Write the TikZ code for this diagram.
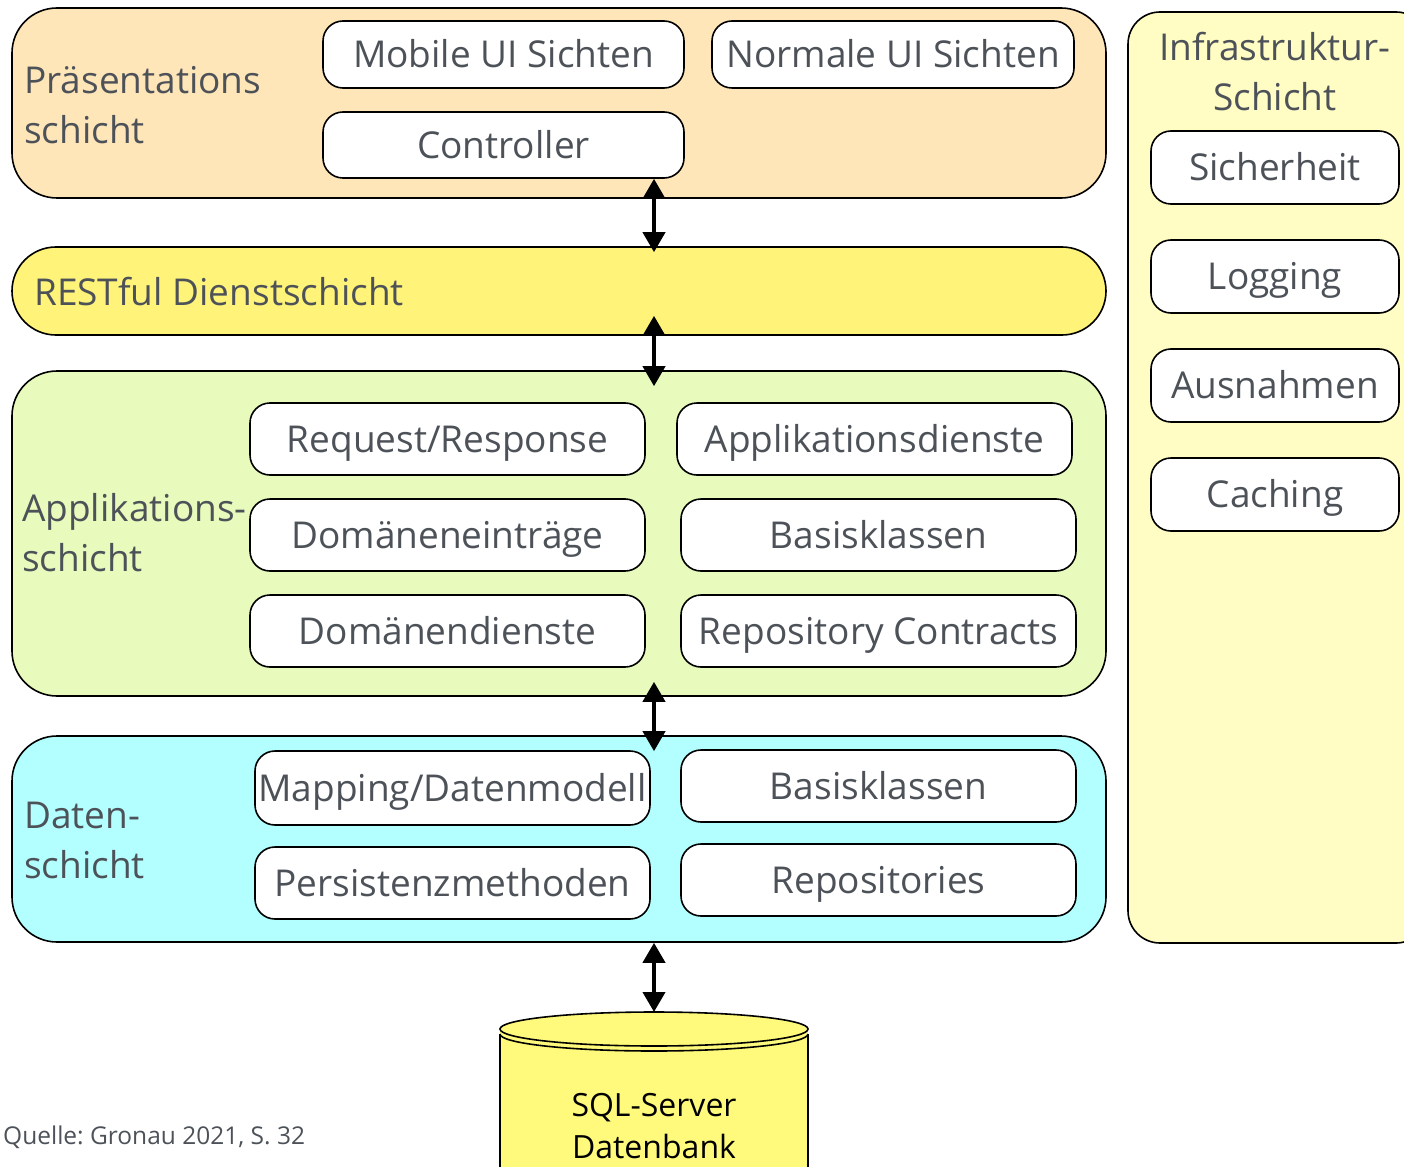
\documentclass[tikz,border=0pt]{standalone}
\usepackage{fontspec}
\setmainfont{Open Sans}
\usepackage{tikz}
\usetikzlibrary{arrows.meta, calc}
\definecolor{txt}{HTML}{4D5259}
\definecolor{pres}{HTML}{FFE6B9}
\definecolor{rest}{HTML}{FFF37A}
\definecolor{appl}{HTML}{E8FBBC}
\definecolor{dat}{HTML}{B3FFFF}
\definecolor{infra}{HTML}{FFFDC4}
\definecolor{dbc}{HTML}{FFFA7C}
\frenchspacing

\begin{document}
\begin{tikzpicture} [x=1pt, y=-1pt,
  layer/.style = {draw, line width=1.6pt, rounded corners=45pt, inner sep=0pt},
  item/.style = {draw, fill=white, line width=1.6pt, rounded corners=20pt, inner sep=0pt,
    text height=26.5pt, text depth=0pt, text=txt, font=\fontsize{37}{50}\selectfont},
  lbl/.style = {anchor=west, align=left, inner sep=0pt, text=txt, font=\fontsize{37}{50}\selectfont},
  dblarrow/.style = {line width=4pt, {Triangle[width=22pt,length=20pt]}-{Triangle[width=22pt,length=20pt]}}]
\useasboundingbox (0,0) rectangle (1404,1166);
\clip (0,0) rectangle (1404,1166);

% Schichten
\node[layer, fill=pres, minimum width=1094pt, minimum height=190pt](pr) at (559,103){};
\node[layer, fill=rest, rounded corners=44pt, minimum width=1094pt, minimum height=88pt](re) at (559,291){};
\node[layer, fill=appl, minimum width=1094pt, minimum height=325pt](ap) at (559,533.5){};
\node[layer, fill=dat, minimum width=1094pt, minimum height=206pt](da) at (559,839){};
\node[layer, fill=infra, rounded corners=32pt, minimum width=300pt, minimum height=931pt](in) at (1278,477.5){};

\node[lbl](prl) at (24,105){Präsentations\\schicht};
\node[lbl](rel) at (34,292){RESTful Dienstschicht};
\node[lbl](apl) at (22,533){Applikations-\\schicht};
\node[lbl](dal) at (24,840){Daten-\\schicht};
\node[lbl, anchor=center, align=center](inl) at (1275,72){Infrastruktur-\\Schicht};

% Praesentation
\node[item, minimum width=361pt, minimum height=67pt](mob) at (503.5,54.5){Mobile UI Sichten};
\node[item, minimum width=362pt, minimum height=67pt](nor) at (893,54.5){Normale UI Sichten};
\node[item, minimum width=361pt, minimum height=66pt](ctrl) at (503.5,145){Controller};

% Applikation
\node[item, minimum width=395pt, minimum height=72pt](req) at (447.5,439){Request/Response};
\node[item, minimum width=395pt, minimum height=72pt](apd) at (874.5,439){Applikationsdienste};
\node[item, minimum width=395pt, minimum height=72pt](dom) at (447.5,535){Domäneneinträge};
\node[item, minimum width=395pt, minimum height=72pt](bas) at (878.5,535){Basisklassen};
\node[item, minimum width=395pt, minimum height=72pt](dod) at (447.5,631){Domänendienste};
\node[item, minimum width=395pt, minimum height=72pt](rco) at (878.5,631){Repository Contracts};

% Daten
\node[item, minimum width=395pt, minimum height=74pt](map) at (452.5,788){Mapping/Datenmodell};
\node[item, minimum width=395pt, minimum height=72pt](bas2) at (878.5,786){Basisklassen};
\node[item, minimum width=395pt, minimum height=72pt](per) at (452.5,883){Persistenzmethoden};
\node[item, minimum width=395pt, minimum height=72pt](rep) at (878.5,880){Repositories};

% Infrastruktur
\node[item, minimum width=248pt, minimum height=73pt](sic) at (1275,167.5){Sicherheit};
\node[item, minimum width=248pt, minimum height=73pt](log) at (1275,276.5){Logging};
\node[item, minimum width=248pt, minimum height=73pt](aus) at (1275,385.5){Ausnahmen};
\node[item, minimum width=248pt, minimum height=73pt](cac) at (1275,494.5){Caching};

% Datenbank
\coordinate (dbtop) at (654,1012);
\fill[dbc] (500,1030) rectangle (808,1200);
\draw[line width=1.6pt] (500,1034) -- (500,1200) (808,1034) -- (808,1200);
\draw[line width=1.6pt] (500,1034) arc (180:0:154 and 17);
\draw[line width=1.6pt, fill=dbc] (654,1029) ellipse (154 and 17);
\node[align=center, inner sep=0pt, font=\fontsize{32}{42}\selectfont](db) at (654,1126){SQL-Server\\Datenbank};

\draw[dblarrow] (ctrl.south -| dbtop) -- ($(re.north -| dbtop)+(0,6)$);
\draw[dblarrow] ($(re.south -| dbtop)+(0,-20)$) -- ($(ap.north -| dbtop)+(0,16)$);
\draw[dblarrow] ($(ap.south -| dbtop)+(0,-15)$) -- ($(da.north -| dbtop)+(0,16)$);
\draw[dblarrow] (da.south -| dbtop) -- (dbtop);

\node[anchor=west, inner sep=0pt, text=txt, font=\fontsize{24.5}{30}\selectfont](src) at (3,1137){Quelle: Gronau 2021, S. 32};
\end{tikzpicture}
\end{document}
